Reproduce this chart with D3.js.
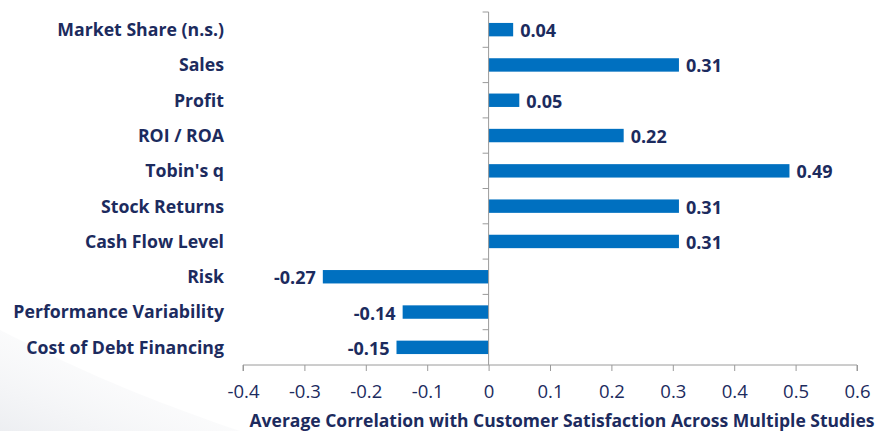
<!DOCTYPE html>
<html>
<head>
<meta charset="utf-8">
<script src="https://cdn.jsdelivr.net/npm/d3@7"></script>
<style>
  html, body { margin: 0; padding: 0; background: #ffffff; }
  svg { display: block; }
</style>
</head>
<body>
<div id="chart"></div>
<script>
// Outcome measures, listed top to bottom
const categories = [
  "Market Share (n.s.)",
  "Sales",
  "Profit",
  "ROI / ROA",
  "Tobin's q",
  "Stock Returns",
  "Cash Flow Level",
  "Risk",
  "Performance Variability",
  "Cost of Debt Financing"
];
// Average correlation with customer satisfaction
const values = [0.04, 0.31, 0.05, 0.22, 0.49, 0.31, 0.31, -0.27, -0.14, -0.15];
const tickValues = [-0.4, -0.3, -0.2, -0.1, 0, 0.1, 0.2, 0.3, 0.4, 0.5, 0.6];
const axisTitle = "Average Correlation with Customer Satisfaction Across Multiple Studies";

const W = 881, H = 431;
const FONT = "'Open Sans', sans-serif";
const NAVY = "#1c2b5e";
const AXIS_GREY = "#9a9a9a";

const svg = d3.select("#chart").append("svg")
  .attr("width", W).attr("height", H);

// soft background swoosh in the lower-left corner
const defs = svg.append("defs");
const grad = defs.append("linearGradient").attr("id", "swoosh")
  .attr("x1", "0").attr("y1", "1").attr("x2", "1").attr("y2", "0");
grad.append("stop").attr("offset", "0").attr("stop-color", "#e8eaee").attr("stop-opacity", 0.8);
grad.append("stop").attr("offset", "1").attr("stop-color", "#ffffff").attr("stop-opacity", 0);
svg.append("path")
  .attr("d", "M0,330 C60,360 120,390 240,431 L0,431 Z")
  .attr("fill", "url(#swoosh)");

const plotTop = 12, plotBottom = 365;
const x = d3.scaleLinear().domain([-0.4, 0.6]).range([243, 857]);
const y = d3.scaleBand().domain(categories).range([plotTop, plotBottom]).paddingInner(0.62).paddingOuter(0.31);
const step = y.step();

// bars
svg.append("g").selectAll("rect")
  .data(values)
  .join("rect")
  .attr("x", d => x(Math.min(0, d)))
  .attr("y", (d, i) => y(categories[i]))
  .attr("width", d => Math.abs(x(d) - x(0)))
  .attr("height", y.bandwidth())
  .attr("fill", "#0070c0");

// value labels
svg.append("g").selectAll("text")
  .data(values)
  .join("text")
  .attr("x", d => d >= 0 ? x(d) + 7 : x(d) - 7)
  .attr("y", (d, i) => y(categories[i]) + y.bandwidth() / 2 + 1)
  .attr("dy", "0.36em")
  .attr("text-anchor", d => d >= 0 ? "start" : "end")
  .attr("font-family", FONT)
  .attr("font-weight", "bold")
  .attr("font-size", 18)
  .attr("fill", NAVY)
  .text(d => d.toFixed(2));

// category axis along zero
const catAxis = svg.append("g").attr("transform", `translate(${x(0)},0)`);
catAxis.append("line")
  .attr("y1", plotTop).attr("y2", plotBottom)
  .attr("stroke", AXIS_GREY);
catAxis.selectAll("line.tick")
  .data(d3.range(categories.length))
  .join("line").attr("class", "tick")
  .attr("x1", -6).attr("x2", 0)
  .attr("y1", i => plotTop + i * step).attr("y2", i => plotTop + i * step)
  .attr("stroke", AXIS_GREY);

// category labels
svg.append("g").selectAll("text")
  .data(categories)
  .join("text")
  .attr("x", 224)
  .attr("y", d => y(d) + y.bandwidth() / 2)
  .attr("dy", "0.36em")
  .attr("text-anchor", "end")
  .attr("font-family", FONT)
  .attr("font-weight", "bold")
  .attr("font-size", 17.7)
  .attr("fill", NAVY)
  .text(d => d);

// value axis
const xAxis = d3.axisBottom(x)
  .tickValues(tickValues)
  .tickSize(6)
  .tickPadding(14)
  .tickFormat(d => (+d.toFixed(1)).toString());
const gx = svg.append("g").attr("transform", `translate(0,${plotBottom})`).call(xAxis);
gx.select(".domain").attr("stroke", AXIS_GREY).attr("d", `M${x(-0.4)},6V0H${x(0.6)}V6`);
gx.selectAll(".tick line").attr("stroke", AXIS_GREY);
gx.selectAll(".tick text")
  .attr("font-family", FONT)
  .attr("font-size", 18.5)
  .attr("fill", NAVY);

// axis title
svg.append("text")
  .attr("x", 562).attr("y", 427)
  .attr("text-anchor", "middle")
  .attr("font-family", FONT)
  .attr("font-weight", "bold")
  .attr("font-size", 17.5)
  .attr("fill", NAVY)
  .text(axisTitle);
</script>
</body>
</html>
